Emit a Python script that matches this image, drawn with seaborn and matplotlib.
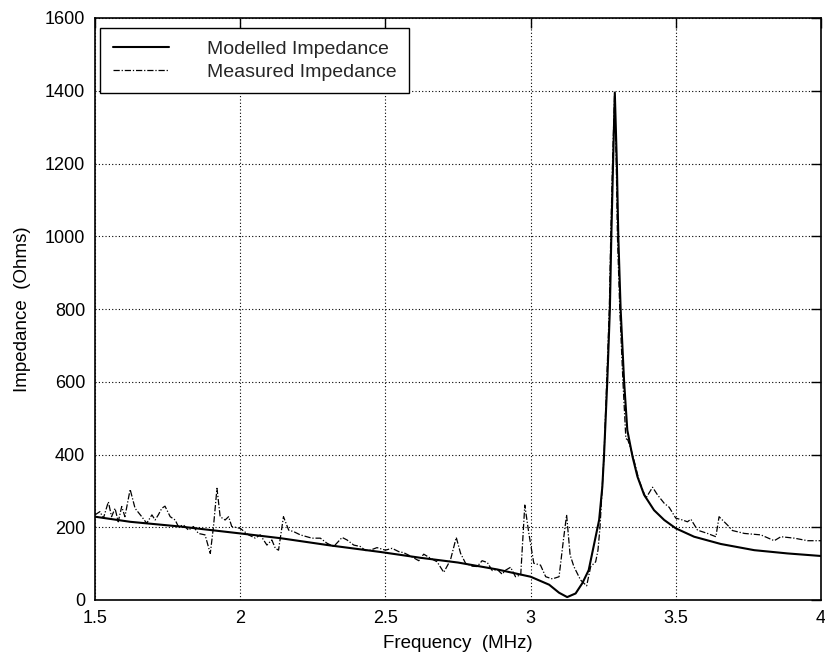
import matplotlib
matplotlib.use("Agg")
import matplotlib.pyplot as plt
import seaborn as sns
import pandas as pd

model_freq = [1.5, 1.621, 1.793, 2.0, 2.138, 2.31, 2.483, 2.621, 2.75, 2.885, 3.0, 3.064,
              3.098, 3.126, 3.155, 3.178, 3.2, 3.224, 3.236, 3.247, 3.253, 3.264, 3.273,
              3.278, 3.284, 3.290, 3.297, 3.302, 3.310, 3.322, 3.333, 3.351, 3.368, 3.391,
              3.425, 3.460, 3.5, 3.563, 3.655, 3.770, 3.885, 4.0]
model_imp = [229, 215, 202, 183, 170, 150, 132, 116, 103, 84, 64, 42,
             20, 8, 18, 46, 82, 174, 220, 311, 400, 600, 800,
             1000, 1200, 1395, 1200, 1000, 800, 600, 467, 394, 339, 289,
             247, 220, 197, 174, 154, 137, 128, 121]

meas_freq = [1.5, 1.517, 1.529, 1.546, 1.557, 1.569, 1.580, 1.592, 1.603, 1.621, 1.638, 1.661,
             1.678, 1.696, 1.707, 1.718, 1.730, 1.741, 1.759, 1.776, 1.787, 1.805, 1.822, 1.839,
             1.856, 1.879, 1.897, 1.908, 1.920, 1.931, 1.948, 1.960, 1.971, 2.0, 2.029, 2.052,
             2.069, 2.092, 2.109, 2.121, 2.132, 2.149, 2.167, 2.184, 2.207, 2.230, 2.247, 2.276,
             2.299, 2.322, 2.351, 2.368, 2.391, 2.414, 2.431, 2.448, 2.471, 2.5, 2.523, 2.546,
             2.563, 2.586, 2.615, 2.632, 2.655, 2.678, 2.701, 2.724, 2.744, 2.759, 2.776, 2.799,
             2.816, 2.833, 2.851, 2.868, 2.885, 2.902, 2.914, 2.931, 2.948, 2.966, 2.980, 2.994,
             3.011, 3.034, 3.052, 3.075, 3.098, 3.113, 3.124, 3.136, 3.149, 3.172, 3.193, 3.207,
             3.224, 3.232, 3.239, 3.253, 3.262, 3.271, 3.276, 3.282, 3.289, 3.295, 3.299, 3.307,
             3.318, 3.328, 3.335, 3.351, 3.373, 3.397, 3.420, 3.437, 3.460, 3.477, 3.5, 3.523,
             3.540, 3.552, 3.575, 3.609, 3.638, 3.649, 3.678, 3.695, 3.736, 3.793, 3.839, 3.862,
             3.908, 3.954, 4.0]
meas_imp = [234, 243, 225, 270, 229, 252, 215, 257, 229, 304, 252, 229,
            211, 234, 220, 234, 252, 258, 229, 220, 202, 206, 192, 202,
            183, 179, 128, 202, 307, 229, 220, 229, 202, 197, 179, 170,
            179, 151, 165, 142, 137, 229, 192, 188, 179, 174, 170, 170,
            156, 147, 172, 165, 151, 147, 136, 137, 144, 137, 142, 133,
            130, 121, 108, 126, 115, 105, 76, 110, 172, 128, 101, 93,
            92, 108, 103, 81, 84, 71, 82, 90, 64, 69, 261, 183,
            101, 96, 64, 58, 64, 165, 234, 124, 92, 55, 39, 92,
            105, 137, 200, 400, 600, 800, 1000, 1200, 1385, 1200, 1000, 800,
            600, 444, 440, 400, 330, 280, 310, 289, 266, 255, 225, 220,
            215, 222, 192, 183, 174, 229, 206, 191, 183, 179, 163, 174,
            170, 163, 163]

x_ticks = [1.5, 2, 2.5, 3, 3.5, 4]
x_tick_labels = ["1.5", "2", "2.5", "3", "3.5", "4"]
y_ticks = [0, 200, 400, 600, 800, 1000, 1200, 1400, 1600]

sns.set_theme(style="white")
plt.rcParams['font.family'] = ['Liberation Sans', 'DejaVu Sans']

fig = plt.figure(figsize=(8.25, 6.63), dpi=100)
ax = fig.add_axes([95/825, 1 - 600/663, (821 - 95)/825, (600 - 18)/663])

df_model = pd.DataFrame({"freq": model_freq, "imp": model_imp})
df_meas = pd.DataFrame({"freq": meas_freq, "imp": meas_imp})

sns.lineplot(data=df_model, x="freq", y="imp", ax=ax, color="black", lw=1.5,
             label="Modelled Impedance", sort=False)
sns.lineplot(data=df_meas, x="freq", y="imp", ax=ax, color="black", lw=0.9,
             label="Measured Impedance", sort=False, dashes=False)
ax.lines[1].set_dashes([5, 1.5, 1, 1.5])

ax.set_xlim(1.5, 4)
ax.set_ylim(0, 1600)
ax.set_xticks(x_ticks)
ax.set_xticklabels(x_tick_labels)
ax.set_yticks(y_ticks)
ax.tick_params(direction="in", top=True, right=True, length=7, width=1,
               labelsize=13, color="black", labelcolor="black", pad=7)
ax.grid(True, color="black", linestyle=(0, (1, 2)), lw=0.8)
for s in ax.spines.values():
    s.set_color("black")
    s.set_linewidth(1.2)

ax.set_xlabel("Frequency  (MHz)", fontsize=13.5, color="black", labelpad=6)
ax.set_ylabel("Impedance  (Ohms)", fontsize=13.5, color="black", labelpad=10)

leg = ax.legend(loc="upper left", bbox_to_anchor=(5/726, 1 - 10/582), frameon=True,
                fancybox=False, edgecolor="black", framealpha=1, fontsize=14,
                handlelength=2.9, handletextpad=1.95, borderpad=0.65, labelspacing=0.25,
                borderaxespad=0)
leg.get_frame().set_linewidth(1.0)
for h in leg.get_lines():
    h.set_color("black")
leg.get_lines()[1].set_dashes([5, 1.5, 1, 1.5])
leg.get_lines()[1].set_linewidth(0.9)

fig.savefig("out.png", dpi=100)
